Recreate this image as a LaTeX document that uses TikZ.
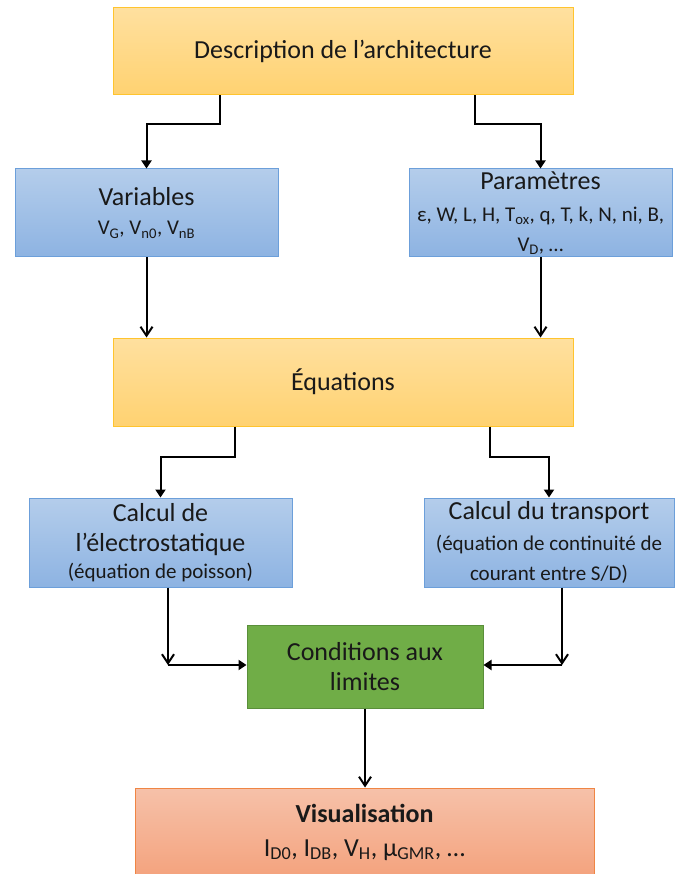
\documentclass[tikz,border=0pt]{standalone}
\usepackage{fontspec}
\setmainfont{Carlito}
\usetikzlibrary{arrows.meta, positioning}

\definecolor{jauneHaut}{HTML}{FFE09F}
\definecolor{jauneBas}{HTML}{FFD271}
\definecolor{jauneBord}{HTML}{FFC42E}
\definecolor{bleuHaut}{HTML}{B4CDEB}
\definecolor{bleuBas}{HTML}{8DB3E2}
\definecolor{bleuBord}{HTML}{6C9FDA}
\definecolor{vert}{HTML}{70AD47}
\definecolor{vertBord}{HTML}{5A8F3A}
\definecolor{saumonHaut}{HTML}{F6C1A9}
\definecolor{saumonBas}{HTML}{F4A37E}
\definecolor{saumonBord}{HTML}{EF8544}

\newcommand{\grand}{\fontsize{26}{30}\selectfont}
\newcommand{\petit}{\fontsize{21}{25}\selectfont}

\begin{document}
\begin{tikzpicture}[x=1pt, y=-1pt,
  boite/.style={draw, line width=1pt, align=center, inner sep=0pt, font=\grand, text=black!90},
  jaune/.style={boite, top color=jauneHaut, bottom color=jauneBas, draw=jauneBord, minimum width=460pt, minimum height=87pt},
  bleu/.style={boite, top color=bleuHaut, bottom color=bleuBas, draw=bleuBord, minimum width=263pt, minimum height=88pt},
  coude/.style={-{Triangle[width=10pt,length=8pt]}, line width=2pt},
  droit/.style={-{Straight Barb[width=12pt,length=9pt]}, line width=2pt}
]
\useasboundingbox (0,0) rectangle (675,874);

% colonne centrale (empilée avec positioning)
\node[jaune] (desc) at (343,51.5) {Description de l’architecture};
\node[jaune, minimum height=88pt, below=242pt of desc] (equ) {Équations};

% boîtes latérales
\node[bleu] (var) at (146.5,213) {Variables\\[-1pt]
  \petit V\textsubscript{G}, V\textsubscript{n0}, V\textsubscript{nB}};
\node[bleu] (param) at (540.5,213) {Paramètres\\[2pt]
  \petit ε, W, L, H, T\textsubscript{ox}, q, T, k, N, ni, B,\\ \petit V\textsubscript{D}, …};
\node[bleu, minimum height=89pt] (elec) at (160.5,542.5) {Calcul de\\ l’électrostatique\\[-3pt]
  \petit (équation de poisson)};
\node[bleu, minimum width=250pt, minimum height=89pt] (trans) at (549,542.5) {Calcul du transport\\[1pt]
  \petit (équation de continuité de\\ \petit courant entre S/D)};

\node[boite, fill=vert, draw=vertBord, minimum width=236pt, minimum height=83pt] (cond) at (365,666.5) {Conditions aux\\ limites};
\node[boite, top color=saumonHaut, bottom color=saumonBas, draw=saumonBord,
  minimum width=459pt, minimum height=88pt] (visu) at (364.5,832) {\textbf{Visualisation}\\[4pt]
  I\textsubscript{D0}, I\textsubscript{DB}, V\textsubscript{H}, μ\textsubscript{GMR}, …};

% points de jonction
\coordinate (jl) at (168,665);
\coordinate (jr) at (562,665);

% connecteurs
\draw[coude] ([xshift=-123pt]desc.south) -- ++(0,29) -| (var.north);
\draw[coude] ([xshift=132pt]desc.south) -- ++(0,29) -| (param.north);
\draw[droit] (var.south) -- (var.south |- equ.north);
\draw[droit] (param.south) -- (param.south |- equ.north);
\draw[coude] ([xshift=-108pt]equ.south) -- ++(0,30) -| (elec.north);
\draw[coude] ([xshift=147pt]equ.south) -- ++(0,30) -| (trans.north);
\draw[droit] (elec.south -| jl) -- (jl);
\draw[coude] (jl) -- (cond.west |- jl);
\draw[droit] (trans.south -| jr) -- (jr);
\draw[coude] (jr) -- (cond.east |- jr);
\draw[droit] (cond.south) -- (cond.south |- visu.north);
\end{tikzpicture}
\end{document}
